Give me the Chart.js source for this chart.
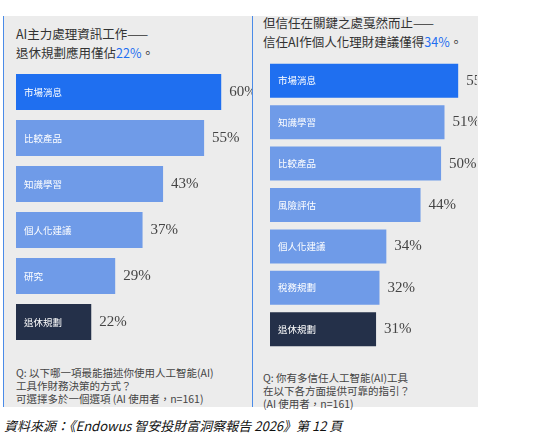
<!DOCTYPE html>
<html><head><meta charset="utf-8">
<script src="https://cdn.jsdelivr.net/npm/chart.js@4"></script>
<style>
body{margin:0;width:536px;height:443px;background:#fff;font-family:"Noto Sans CJK TC",sans-serif;position:relative;overflow:hidden}
#panel{position:absolute;left:3px;top:16px;width:474px;height:391px;background:#ececec;border-left:1px solid #4a8be8}
#div{position:absolute;left:252px;top:16px;width:1px;height:391px;background:#4a8be8}
.t{position:absolute;color:#333;font-size:12.5px;line-height:19px}
.q{position:absolute;color:#444;font-size:10.5px;line-height:13px}
.hl{color:#1f6ff0}
canvas{position:absolute}
</style></head><body>
<div id="panel"></div><div id="div"></div>
<div class="t" style="left:16px;top:24px">AI主力處理資訊工作——<br>退休規劃應用僅佔<span class="hl">22%</span>。</div>
<div class="t" style="left:263px;top:13px">但信任在關鍵之處戛然而止——<br>信任AI作個人化理財建議僅得<span class="hl">34%</span>。</div>
<div class="q" style="left:16px;top:366px">Q: 以下哪一項最能描述你使用人工智能(AI)<br>工具作財務決策的方式？<br>可選擇多於一個選項 (AI 使用者，n=161)</div>
<div class="q" style="left:263px;top:371px">Q: 你有多信任人工智能(AI)工具<br>在以下各方面提供可靠的指引？<br>(AI 使用者，n=161)</div>
<div style="position:absolute;left:4px;top:416px;font-size:13px;font-style:italic;color:#111">資料來源：《Endowus 智安投財富洞察報告 2026》第 12 頁</div>
<div style="position:absolute;left:16px;top:69px;width:236px;height:276px"><canvas id="c1"></canvas></div>
<div style="position:absolute;left:270px;top:60px;width:207px;height:290px"><canvas id="c2"></canvas></div>
<script>
const leftCats = ['市場消息','比較產品','知識學習','個人化建議','研究','退休規劃'];
const leftVals = [60,55,43,37,29,22];
const leftColors = ['#1f6ff0','#6f9be8','#6f9be8','#6f9be8','#6f9be8','#243049'];
const rightCats = ['市場消息','知識學習','比較產品','風險評估','個人化建議','稅務規劃','退休規劃'];
const rightVals = [55,51,50,44,34,32,31];
const rightColors = ['#1f6ff0','#6f9be8','#6f9be8','#6f9be8','#6f9be8','#6f9be8','#243049'];

const labelPlugin = {
  id:'lbl',
  afterDatasetsDraw(chart){
    const ctx = chart.ctx;
    const meta = chart.getDatasetMeta(0);
    meta.data.forEach((bar,i)=>{
      ctx.save();
      ctx.textBaseline='middle';
      ctx.fillStyle='#fff';
      ctx.font='9.5px "Noto Sans CJK TC"';
      ctx.fillText(chart.data.labels[i], bar.base+8, bar.y);
      ctx.fillStyle='#444';
      ctx.font='15px "Liberation Serif"';
      ctx.fillText(chart.data.datasets[0].data[i]+'%', bar.x+8, bar.y);
      ctx.restore();
    });
  }
};

function make(id, cats, vals, colors, max, bp){
  new Chart(document.getElementById(id), {
    type:'bar',
    data:{labels:cats, datasets:[{data:vals, backgroundColor:colors, barPercentage:bp, categoryPercentage:1}]},
    options:{
      indexAxis:'y', responsive:true, maintainAspectRatio:false, animation:false,
      layout:{padding:0},
      plugins:{legend:{display:false}, tooltip:{enabled:false}},
      scales:{
        x:{display:false, min:0, max:max},
        y:{display:false}
      }
    },
    plugins:[labelPlugin]
  });
}
make('c1', leftCats, leftVals, leftColors, 69, 0.78);
make('c2', rightCats, rightVals, rightColors, 60.5, 0.82);
</script>
</body></html>
